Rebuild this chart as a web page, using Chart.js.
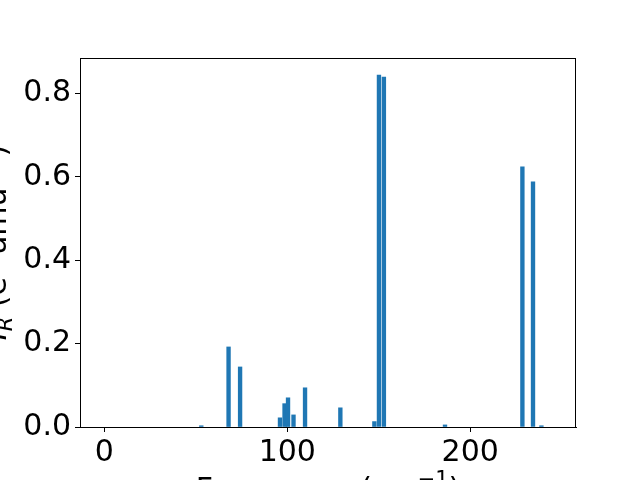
<!DOCTYPE html>
<html>
<head>
<meta charset="utf-8">
<script src="https://cdn.jsdelivr.net/npm/chart.js@4/dist/chart.umd.min.js"></script>
<style>
  html, body { margin: 0; padding: 0; background: #fff; }
  #wrap { width: 640px; height: 480px; }
</style>
</head>
<body>
<div id="wrap"><canvas id="ir-chart" width="640" height="480"></canvas></div>
<script>
// frequencies (cm^-1) and Raman/IR intensities
var freqs = [53, 67.9, 74.2, 96, 98.5, 100.4, 103.4, 109.7, 129, 147.6, 150.1, 152.8, 186.2, 228.5, 234.3, 238.9];
var intensities = [0.003, 0.192, 0.144, 0.022, 0.056, 0.070, 0.029, 0.094, 0.046, 0.013, 0.844, 0.839, 0.005, 0.624, 0.588, 0.003];
var xTicks = [0, 100, 200];
var yTicks = [0.0, 0.2, 0.4, 0.6, 0.8];

var points = freqs.map(function (f, i) { return { x: f, y: intensities[i] }; });
var tickFont = { family: "DejaVu Sans", size: 30 };

// box frame + cut-off axis labels like the original figure
var framePlugin = {
  id: "frame",
  afterDraw: function (chart) {
    var c = chart.ctx, a = chart.chartArea;
    c.save();
    c.strokeStyle = "#000";
    c.lineWidth = 1;
    c.strokeRect(a.left + 0.5, a.top + 0.5, a.right - a.left - 1, a.bottom - a.top);
    c.fillStyle = "#000";

    // x label
    c.textBaseline = "alphabetic";
    var parts = [["Frequency (cm", "30px DejaVu Sans", 0], ["\u22121", "21px DejaVu Sans", -13], [")", "30px DejaVu Sans", 0]];
    var w = 0;
    parts.forEach(function (p) { c.font = p[1]; w += c.measureText(p[0]).width; });
    var x = (a.left + a.right) / 2 - w / 2, base = 499;
    parts.forEach(function (p) {
      c.font = p[1];
      c.fillText(p[0], x, base + p[2]);
      x += c.measureText(p[0]).width;
    });

    // y label, rotated
    c.translate(6, (a.top + a.bottom) / 2);
    c.rotate(-Math.PI / 2);
    var yparts = [["I", "italic 30px DejaVu Sans", 0], ["R", "italic 21px DejaVu Sans", 6],
      [" (e", "30px DejaVu Sans", 0], ["2", "21px DejaVu Sans", -13],
      [" amu", "30px DejaVu Sans", 0], ["\u22121", "21px DejaVu Sans", -13], [")", "30px DejaVu Sans", 0]];
    w = 0;
    yparts.forEach(function (p) { c.font = p[1]; w += c.measureText(p[0]).width; });
    x = -w / 2;
    yparts.forEach(function (p) {
      c.font = p[1];
      c.fillText(p[0], x, p[2]);
      x += c.measureText(p[0]).width;
    });
    c.restore();
  }
};

new Chart(document.getElementById("ir-chart"), {
  type: "bar",
  data: {
    datasets: [{
      data: points,
      backgroundColor: "#1f77b4",
      borderWidth: 0,
      barThickness: 3.7
    }]
  },
  options: {
    responsive: false,
    animation: false,
    layout: { padding: { top: 58, right: 64, left: 0, bottom: 0 } },
    plugins: { legend: { display: false }, tooltip: { enabled: false } },
    scales: {
      x: {
        type: "linear",
        offset: false,
        min: -13.3,
        max: 257.8,
        afterFit: function (s) { s.height = 53; },
        afterBuildTicks: function (s) { s.ticks = xTicks.map(function (v) { return { value: v }; }); },
        grid: { drawOnChartArea: false, offset: false, tickLength: 5, color: "#000", tickColor: "#000" },
        border: { color: "#000" },
        ticks: { font: tickFont, color: "#000", padding: 3, maxRotation: 0 }
      },
      y: {
        min: 0,
        max: 0.885,
        afterFit: function (s) { s.width = 80; },
        afterBuildTicks: function (s) { s.ticks = yTicks.map(function (v) { return { value: v }; }); },
        grid: { drawOnChartArea: false, tickLength: 5, color: "#000", tickColor: "#000" },
        border: { color: "#000" },
        ticks: {
          font: tickFont, color: "#000", padding: 4,
          callback: function (v) { return v.toFixed(1); }
        }
      }
    }
  },
  plugins: [framePlugin]
});
</script>
</body>
</html>
